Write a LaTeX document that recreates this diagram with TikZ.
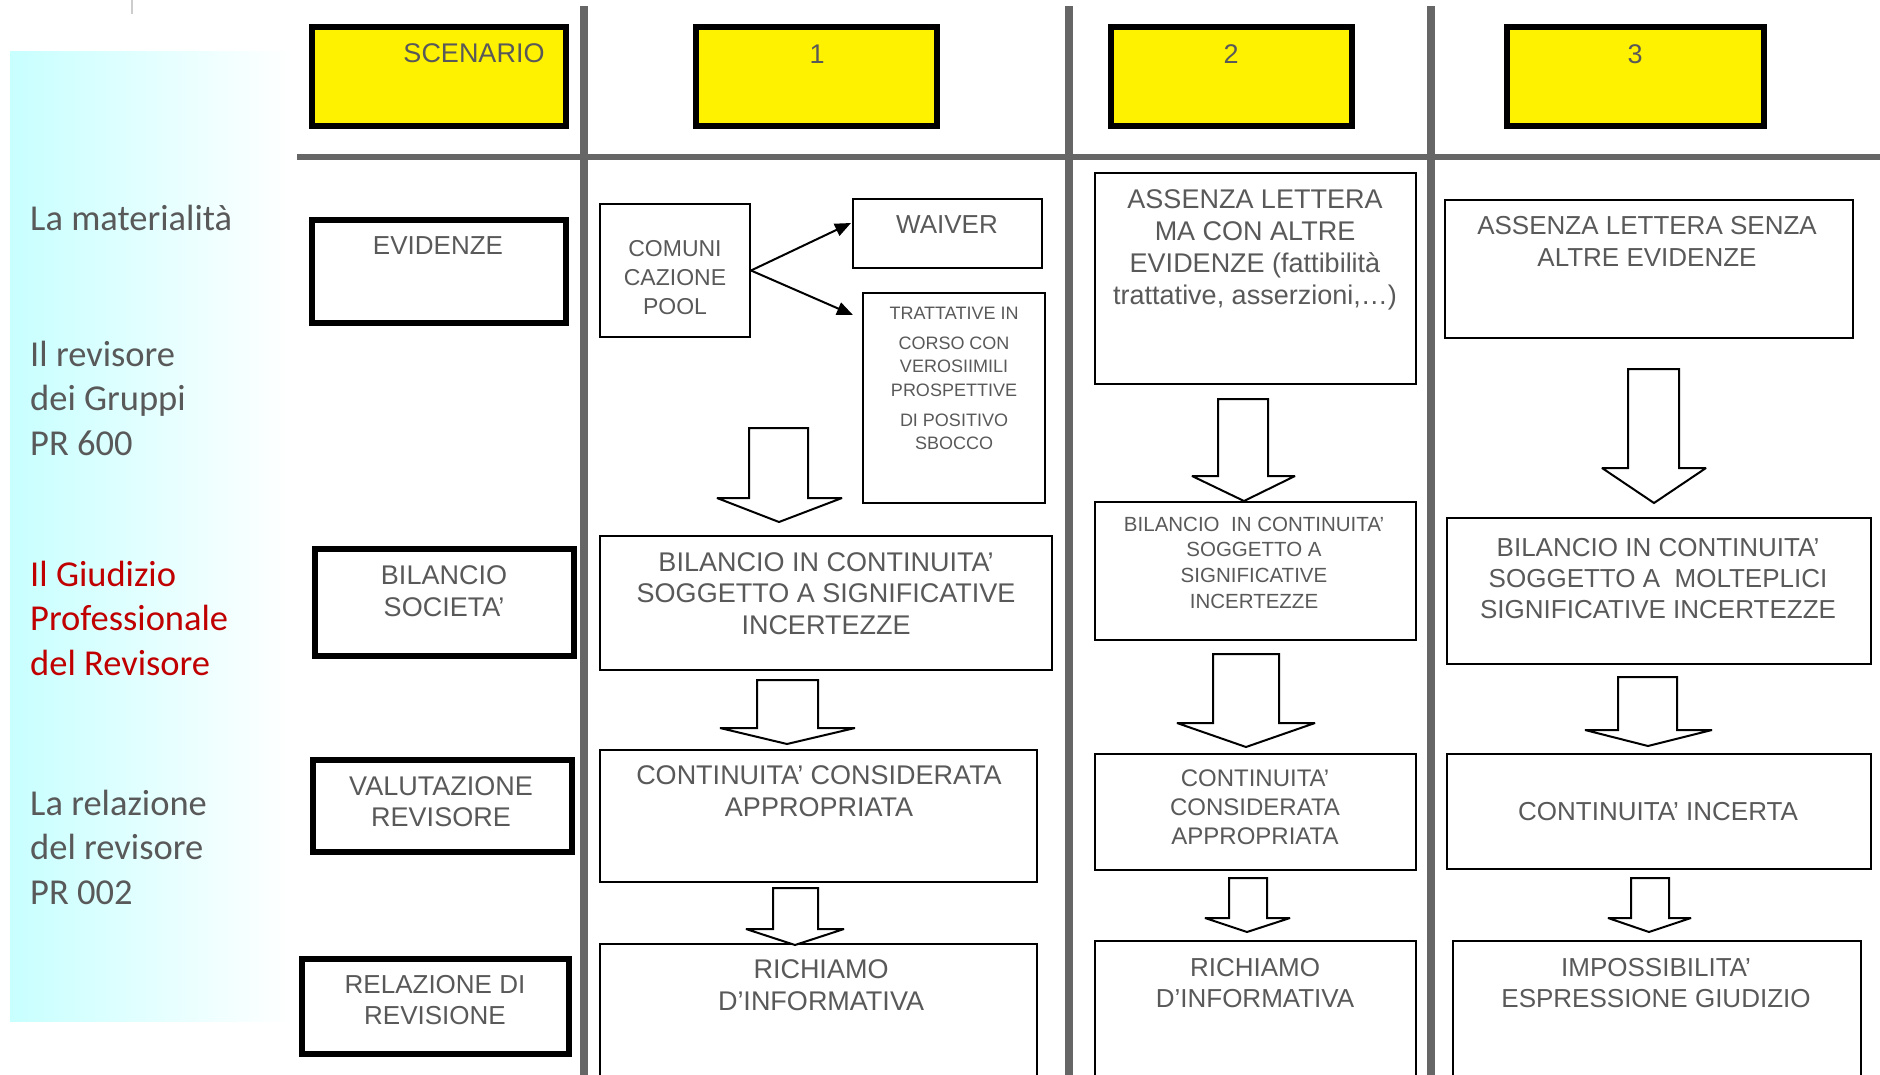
\documentclass[tikz,border=0pt]{standalone}
\usepackage{fontspec}
\setmainfont{Liberation Sans}
\newfontfamily\arialf{Liberation Sans}
\newfontfamily\calib{Carlito}
\usetikzlibrary{arrows.meta}
\definecolor{txtgray}{RGB}{89,89,89}
\definecolor{sepgray}{RGB}{102,102,102}
\definecolor{redtxt}{RGB}{192,0,0}
\definecolor{cyanL}{RGB}{200,255,255}
\definecolor{ticgray}{RGB}{205,205,205}
\newcommand{\mkbox}[7]{\node[#2, minimum width={#5-#3-#7}, minimum height={#6-#4-#7}] (#1) at ({(#3+#5)/2},{(#4+#6)/2}) {};}
\newcommand{\blockarr}[8]{\draw[barrow] (#1,#3) -- (#2,#3) -- (#2,#4) -- (#6,#4) -- (#7,#8) -- (#5,#4) -- (#1,#4) -- cycle;}
\begin{document}
\begin{tikzpicture}[x=1pt,y=-1pt,
  thinbx/.style={draw=black, line width=2pt, fill=white, inner sep=0pt},
  thickbx/.style={draw=black, line width=6pt, fill=white, inner sep=0pt},
  yelbx/.style={draw=black, line width=6pt, fill=yellow, inner sep=0pt},
  txt/.style={text=txtgray, inner sep=0pt, align=center},
  fs/.style 2 args={font={\arialf\fontsize{#1}{#2}\selectfont}},
  side/.style={inner sep=0pt, align=left, anchor=west, text=txtgray, font={\calib\fontsize{36.5}{44.5}\selectfont}},
  barrow/.style={draw=black, line width=2pt, fill=white, line join=miter, miter limit=3},
  sep/.style={draw=sepgray},
  thinarrow/.style={draw=black, line width=2pt, -{Triangle[length=16pt,width=13pt]}}
]
\path[use as bounding box] (0,0) rectangle (1880,1074);
\clip (0,0) rectangle (1880,1074);

% background panel
\shade[left color=cyanL, right color=white] (10,51) rectangle (292,1021);
\draw[line width=2pt, ticgray] (132,0) -- (132,14);

% separators
\draw[sep, line width=6pt] (297,157) -- (1880,157);
\draw[sep, line width=8pt] (584,6) -- (584,1080);
\draw[sep, line width=8pt] (1069,6) -- (1069,1080);
\draw[sep, line width=8pt] (1431,6) -- (1431,1080);

% header boxes
\mkbox{hscen}{yelbx}{309}{24}{569}{129}{6}
\mkbox{hone}{yelbx}{693}{24}{940}{129}{6}
\mkbox{htwo}{yelbx}{1108}{24}{1355}{129}{6}
\mkbox{hthree}{yelbx}{1504}{24}{1767}{129}{6}

% left boxes
\mkbox{bev}{thickbx}{309}{217}{569}{326}{6}
\mkbox{bbil}{thickbx}{312}{546}{577}{659}{6}
\mkbox{bval}{thickbx}{310}{757}{575}{855}{6}
\mkbox{brel}{thickbx}{299}{956}{572}{1057}{6}

% column 1
\mkbox{comuni}{thinbx}{599}{203}{751}{338}{2}
\mkbox{waiver}{thinbx}{852}{198}{1043}{269}{2}
\mkbox{tratt}{thinbx}{862}{292}{1046}{504}{2}
\mkbox{abil}{thinbx}{599}{535}{1053}{671}{2}
\mkbox{acont}{thinbx}{599}{749}{1038}{883}{2}
\mkbox{arich}{thinbx}{599}{943}{1038}{1100}{2}

% column 2
\mkbox{bass}{thinbx}{1094}{172}{1417}{385}{2}
\mkbox{bbil2}{thinbx}{1094}{501}{1417}{641}{2}
\mkbox{bcont}{thinbx}{1094}{753}{1417}{871}{2}
\mkbox{brich}{thinbx}{1094}{940}{1417}{1100}{2}

% column 3
\mkbox{cass}{thinbx}{1444}{199}{1854}{339}{2}
\mkbox{cbil}{thinbx}{1446}{517}{1872}{665}{2}
\mkbox{ccont}{thinbx}{1446}{753}{1872}{870}{2}
\mkbox{cimp}{thinbx}{1452}{940}{1862}{1100}{2}

% thin arrows
\coordinate (wtip) at (851,223);
\coordinate (ttip) at (853,315);
\draw[thinarrow] (comuni.east) -- (wtip);
\draw[thinarrow] (comuni.east) -- (ttip);

% block arrows
\blockarr{749}{808}{428}{498}{717}{842}{779}{522}
\blockarr{757}{818}{680}{728}{720}{855}{787}{744}
\blockarr{773}{818}{888}{929}{746}{844}{795}{945}
\blockarr{1218}{1268}{399}{476}{1192}{1295}{1244}{501}
\blockarr{1213}{1279}{654}{723}{1177}{1315}{1246}{747}
\blockarr{1229}{1267}{878}{918}{1205}{1290}{1247}{932}
\blockarr{1628}{1679}{369}{468}{1602}{1706}{1654}{503}
\blockarr{1618}{1677}{677}{730}{1585}{1712}{1648}{746}
\blockarr{1631}{1669}{878}{918}{1608}{1691}{1649}{932}

% side labels
\node[side] (s1) at (30,218) {La materialità};
\node[side] (s2) at (30,398) {Il revisore\\dei Gruppi\\PR 600};
\node[side, text=redtxt] (s3) at (30,618) {Il Giudizio\\Professionale\\del Revisore};
\node[side] (s4) at (30,847) {La relazione\\del revisore\\PR 002};

% header texts
\node[txt, fs={27}{32}] (tscen) at (474,53) {SCENARIO};
\node[txt, fs={27}{32}] (tone) at (817,54) {1};
\node[txt, fs={27}{32}] (ttwo) at (1231,54) {2};
\node[txt, fs={27}{32}] (tthree) at (1635,54) {3};

% left box texts
\node[txt, fs={26}{31}] (tev) at (438,246) {EVIDENZE};
\node[txt, fs={27}{32}] (tbil) at (444,591) {BILANCIO\\SOCIETA’};
\node[txt, fs={27}{31}] (tval) at (441,801.5) {VALUTAZIONE\\REVISORE};
\node[txt, fs={26}{31}] (trel) at (435,1000.5) {RELAZIONE DI\\REVISIONE};

% column 1 texts
\node[txt, fs={23}{29}] (tcom) at (675,278) {COMUNI\\CAZIONE\\POOL};
\node[txt, fs={26}{31}] (twai) at (947,225) {WAIVER};
\node[txt, fs={18}{23.5}] (ttra) at (954,378.5) {TRATTATIVE IN\\[6.5pt]CORSO CON\\VEROSIIMILI\\PROSPETTIVE\\[6.5pt]DI POSITIVO\\SBOCCO};
\node[txt, fs={27}{31.5}] (tabil) at (826,593.5) {BILANCIO IN CONTINUITA’\\SOGGETTO A SIGNIFICATIVE\\INCERTEZZE};
\node[txt, fs={27}{32}] (tacont) at (819,791) {CONTINUITA’ CONSIDERATA\\APPROPRIATA};
\node[txt, fs={27}{32}] (tarich) at (821,985) {RICHIAMO\\D’INFORMATIVA};

% column 2 texts
\node[txt, fs={27}{32}] (tbass) at (1255,250) {ASSENZA LETTERA\\MA CON ALTRE\\EVIDENZE (fattibilità\\trattative, asserzioni,…)};
\node[txt, fs={20.5}{25.7}] (tbbil) at (1254,562.5) {BILANCIO\ \ IN CONTINUITA’\\SOGGETTO A\\SIGNIFICATIVE\\INCERTEZZE};
\node[txt, fs={24}{29}] (tbcont) at (1255,807) {CONTINUITA’\\CONSIDERATA\\APPROPRIATA};
\node[txt, fs={26}{31}] (tbrich) at (1255,983.5) {RICHIAMO\\D’INFORMATIVA};

% column 3 texts
\node[txt, fs={26}{32}] (tcass) at (1647,241) {ASSENZA LETTERA SENZA\\ALTRE EVIDENZE};
\node[txt, fs={26}{31}] (tcbil) at (1658,579) {BILANCIO IN CONTINUITA’\\SOGGETTO A\ \ MOLTEPLICI\\SIGNIFICATIVE INCERTEZZE};
\node[txt, fs={26}{31}] (tccont) at (1658,812) {CONTINUITA’ INCERTA};
\node[txt, fs={26}{31}] (tcimp) at (1656,983.5) {IMPOSSIBILITA’\\ESPRESSIONE GIUDIZIO};
\end{tikzpicture}
\end{document}
